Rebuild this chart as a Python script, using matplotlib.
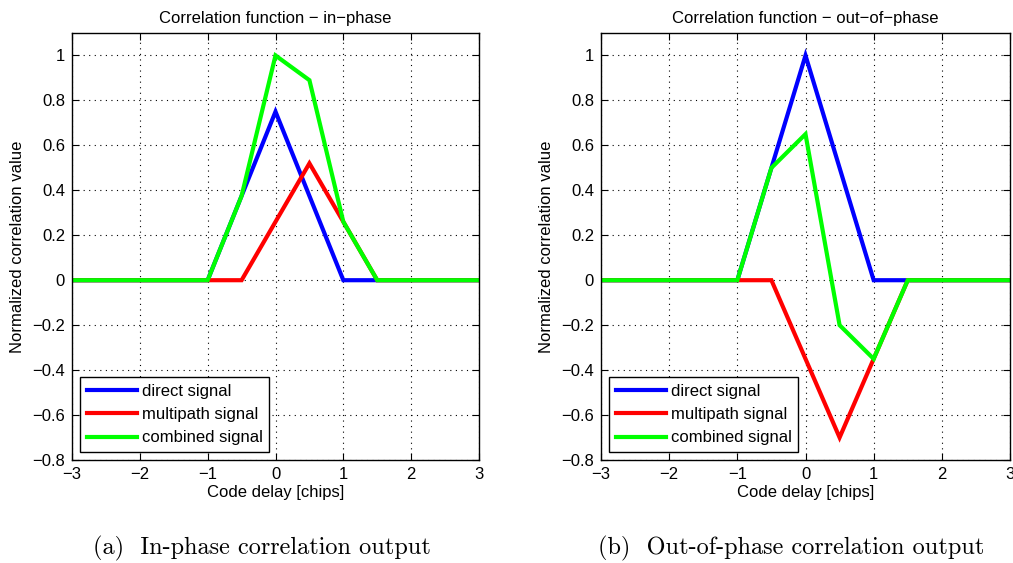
import matplotlib
matplotlib.use('Agg')
import matplotlib.pyplot as plt

# Data
delay = [-3, -1, -0.5, 0, 0.5, 1, 1.5, 3]

direct_in = [0, 0, 0.375, 0.75, 0.375, 0, 0, 0]
multi_in = [0, 0, 0, 0.26, 0.52, 0.26, 0, 0]
comb_in = [0, 0, 0.375, 1.0, 0.89, 0.26, 0, 0]

direct_out = [0, 0, 0.5, 1.0, 0.5, 0, 0, 0]
multi_out = [0, 0, 0, -0.35, -0.7, -0.35, 0, 0]
comb_out = [0, 0, 0.5, 0.65, -0.2, -0.35, 0, 0]

x_ticks = [-3, -2, -1, 0, 1, 2, 3]
y_ticks = [-0.8, -0.6, -0.4, -0.2, 0, 0.2, 0.4, 0.6, 0.8, 1]

titles = ['Correlation function \u2212 in\u2212phase',
          'Correlation function \u2212 out\u2212of\u2212phase']
captions = ['(a)  In-phase correlation output',
            '(b)  Out-of-phase correlation output']
labels = ['direct signal', 'multipath signal', 'combined signal']
colors = ['#0000ff', '#ff0000', '#00ff00']

plt.rcParams['font.family'] = ['Liberation Sans', 'DejaVu Sans']
plt.rcParams['axes.unicode_minus'] = True

W, H = 1013, 563
fig = plt.figure(figsize=(W / 100, H / 100), dpi=100)

# axes boxes in pixels: left, right, top, bottom
boxes = [(72, 479, 33, 460), (601, 1010, 33, 460)]
series = [(direct_in, multi_in, comb_in), (direct_out, multi_out, comb_out)]
fs = 12

def fmt(v):
    s = f'{v:g}'
    return s.replace('-', '\u2212')

for k in [0, 1]:
    l, r, t, b = boxes[k]
    ax = fig.add_axes([l / W, 1 - b / H, (r - l) / W, (b - t) / H])
    for ys, c, lab in zip(series[k], colors, labels):
        ax.plot(delay, ys, color=c, lw=3, label=lab, solid_joinstyle='miter')
    ax.set_xlim(-3, 3)
    ax.set_ylim(-0.8, 1.1)
    ax.set_xticks(x_ticks)
    ax.set_xticklabels([fmt(v) for v in x_ticks], fontsize=fs)
    ax.set_yticks(y_ticks)
    ax.set_yticklabels([fmt(v) for v in y_ticks], fontsize=fs)
    ax.tick_params(direction='in', length=5, width=0.8, top=True, right=True, pad=5)
    ax.grid(True, color='black', linestyle=(0, (1, 4)), linewidth=0.8)
    for sp in ax.spines.values():
        sp.set_linewidth(1.0)
    ax.set_title(titles[k], fontsize=fs, pad=7)
    ax.set_xlabel('Code delay [chips]', fontsize=fs, labelpad=2)
    ax.set_ylabel('Normalized correlation value', fontsize=fs, labelpad=5)
    leg = ax.legend(loc='lower left', bbox_to_anchor=(8 / (r - l), 8 / (b - t)),
                    borderaxespad=0, fontsize=fs, handlelength=3.0,
                    handletextpad=0.3, labelspacing=0.5, borderpad=0.4,
                    fancybox=False, framealpha=1, edgecolor='black')
    leg.get_frame().set_linewidth(1.0)
    # subfigure caption
    cx = (l + r) / 2 - 14
    fig.text(cx / W, 1 - 548 / H, captions[k], ha='center', va='center',
             fontsize=17.5, family='cmr10')

fig.savefig('out.png', dpi=100)
